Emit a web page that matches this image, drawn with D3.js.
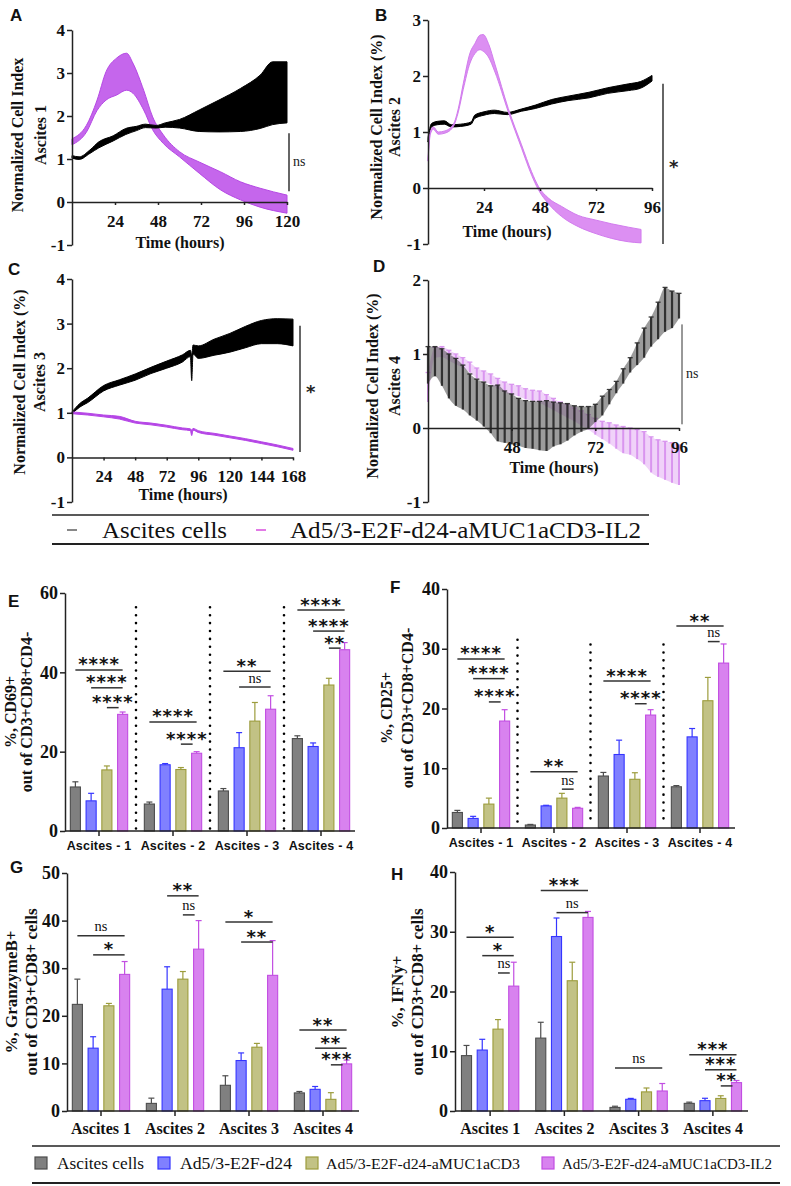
<!DOCTYPE html>
<html><head><meta charset="utf-8">
<script src="https://cdn.jsdelivr.net/npm/d3@7"></script>
<style>body{margin:0;background:#fff}</style>
</head><body><script>
// ---------------- DATA ----------------
// Panel A (Ascites 1): time (h), mean, error
const timeA_cells = [0,4,10,15,23,30,36,41,47,52,60,71,82,94,105,112,120];
const meanA_cells = [1.05,1.02,1.17,1.33,1.48,1.64,1.71,1.77,1.75,1.79,1.82,1.89,2.0,2.14,2.33,2.53,2.55];
const errA_cells  = [0.03,0.03,0.04,0.07,0.06,0.07,0.05,0.04,0.03,0.05,0.1,0.25,0.37,0.5,0.62,0.73,0.71];
const timeA_virus = [0,8,14,19,25,30.5,34,40,45,51,60,71,83,94,105,120];
const meanA_virus = [1.4,1.7,2.25,2.7,2.92,3.03,2.88,2.37,1.83,1.46,1.11,0.8,0.49,0.26,0.1,-0.05];
const errA_virus  = [0.07,0.08,0.12,0.33,0.43,0.43,0.35,0.23,0.15,0.1,0.06,0.13,0.21,0.21,0.22,0.21];
// Panel B (Ascites 2)
const timeB_cells = [0,1.5,4,7,10,14,18.5,20,24,28.5,34,40,46,53,60,69,77,86,91,96];
const meanB_cells = [0.86,1.12,1.16,1.17,1.11,1.12,1.16,1.27,1.33,1.36,1.33,1.39,1.45,1.54,1.6,1.66,1.74,1.8,1.84,1.96];
const errB_cells  = [0.04,0.03,0.03,0.03,0.02,0.02,0.02,0.03,0.03,0.03,0.02,0.02,0.03,0.04,0.04,0.05,0.05,0.06,0.06,0.05];
const timeB_virus = [0,1,2.3,4.4,7.3,10.9,13,15.1,18,20.1,22.3,23.7,25.9,28.7,34.4,40.1,44.4,47.3,51.6,57.3,64.4,71.6,78.7,85.9,91.3];
const meanB_virus = [0.5,0.98,1.07,0.98,1.0,1.12,1.39,1.81,2.32,2.49,2.6,2.59,2.46,2.14,1.39,0.74,0.26,0.0,-0.23,-0.42,-0.59,-0.69,-0.77,-0.83,-0.86];
const errB_virus  = [0.02,0.02,0.02,0.02,0.02,0.02,0.03,0.05,0.09,0.09,0.13,0.15,0.12,0.07,0.03,0.03,0.03,0.03,0.05,0.09,0.1,0.12,0.13,0.13,0.12];
// Panel C (Ascites 3)
const timeC_cells = [0,6,12,24,36,48,60,72,84,90,91,92,96,108,120,132,144,156,168];
const meanC_cells = [1.0,1.17,1.28,1.55,1.68,1.8,1.95,2.08,2.22,2.33,2.0,2.42,2.36,2.47,2.57,2.7,2.81,2.83,2.8];
const errC_cells  = [0.02,0.04,0.05,0.06,0.06,0.07,0.07,0.08,0.08,0.07,0.28,0.1,0.14,0.18,0.21,0.24,0.26,0.28,0.3];
const timeC_virus = [0,12,24,36,48,60,72,84,90,91,92,96,108,120,132,144,156,168];
const meanC_virus = [1.0,0.97,0.93,0.89,0.79,0.75,0.7,0.64,0.62,0.55,0.63,0.58,0.52,0.46,0.4,0.33,0.26,0.18];
const errC_virus  = [0.02,0.02,0.02,0.03,0.02,0.02,0.02,0.02,0.02,0.06,0.02,0.02,0.02,0.02,0.02,0.02,0.02,0.02];
// Panel D (Ascites 4)
const timeD = [24,26,28,30,32,34,36,38,40,42,44,46,48,50,52,54,56,58,60,62,64,66,68,70,72,74,76,78,80,82,84,86,88,90,92,94,96];
const meanD_cells = [0.85,0.9,0.82,0.7,0.62,0.55,0.45,0.38,0.32,0.25,0.2,0.15,0.12,0.08,0.05,0.04,0.03,0.03,0.05,0.06,0.08,0.1,0.12,0.14,0.2,0.3,0.42,0.55,0.7,0.85,1.0,1.15,1.3,1.45,1.6,1.6,1.65];
const errD_cells  = [0.25,0.2,0.25,0.3,0.32,0.3,0.28,0.28,0.3,0.32,0.38,0.35,0.34,0.32,0.32,0.32,0.33,0.34,0.3,0.28,0.25,0.2,0.17,0.15,0.12,0.13,0.1,0.08,0.1,0.1,0.15,0.2,0.2,0.25,0.3,0.25,0.17];
const meanD_virus = [0.55,1.02,1.03,0.98,0.93,0.88,0.82,0.74,0.7,0.66,0.6,0.55,0.52,0.5,0.46,0.44,0.42,0.37,0.32,0.27,0.23,0.18,0.13,0.08,0.02,-0.03,-0.07,-0.12,-0.16,-0.18,-0.22,-0.27,-0.36,-0.41,-0.44,-0.47,-0.5];
const errD_virus  = [0.2,0.07,0.07,0.07,0.07,0.07,0.07,0.07,0.07,0.07,0.07,0.07,0.07,0.07,0.07,0.07,0.08,0.08,0.08,0.08,0.09,0.09,0.1,0.1,0.11,0.12,0.14,0.16,0.18,0.18,0.2,0.22,0.24,0.25,0.26,0.27,0.27];
const lineSeriesNames = ["Ascites cells","Ad5/3-E2F-d24-aMUC1aCD3-IL2"];

// Bar panels
const groupsEF = ["Ascites - 1","Ascites - 2","Ascites - 3","Ascites - 4"];
const groupsGH = ["Ascites 1","Ascites 2","Ascites 3","Ascites 4"];
const barSeriesNames = ["Ascites cells","Ad5/3-E2F-d24","Ad5/3-E2F-d24-aMUC1aCD3","Ad5/3-E2F-d24-aMUC1aCD3-IL2"];
const cd69Mean = [[11.1,7.6,15.4,29.4],[6.8,16.7,15.5,19.6],[10.1,21.0,27.7,30.7],[23.3,21.3,36.8,45.7]];
const cd69Err  = [[1.3,1.9,1.0,0.6],[0.5,0.3,0.5,0.4],[0.6,3.8,4.7,3.4],[0.7,0.9,1.7,1.8]];
const cd25Mean = [[2.6,1.6,4.0,17.9],[0.5,3.7,5.0,3.3],[8.7,12.3,8.15,18.9],[6.9,15.25,21.3,27.6]];
const cd25Err  = [[0.35,0.35,1.0,1.9],[0.1,0.1,0.8,0.15],[0.6,2.4,1.1,0.9],[0.2,1.4,3.9,3.2]];
const gzbMean  = [[22.4,13.2,22.1,28.7],[1.6,25.6,27.7,34.0],[5.4,10.6,13.4,28.5],[3.8,4.55,2.45,9.9]];
const gzbErr   = [[5.3,2.4,0.5,2.7],[1.1,4.7,1.6,6.0],[2.0,1.6,0.8,7.3],[0.3,0.6,1.4,0.8]];
const ifnMean  = [[9.27,10.2,13.7,20.9],[12.2,29.2,21.8,32.4],[0.6,1.96,3.2,3.35],[1.28,1.73,2.1,4.75]];
const ifnErr   = [[1.7,1.8,1.6,4.0],[2.65,3.1,3.1,1.0],[0.2,0.15,0.65,1.25],[0.2,0.4,0.45,0.35]];
// significance: [group, seriesA, seriesB, level (data units), label]
const sigE = [[0,0,3,40.6,'****'],[0,1,3,36.1,'****'],[0,2,3,31.1,'****'],[1,0,3,27.5,'****'],[1,2,3,21.9,'****'],[2,0,3,40.3,'**'],[2,1,3,36.3,'ns'],[3,0,3,55.7,'****'],[3,1,3,50.4,'****'],[3,2,3,46.1,'**']];
const sigF = [[0,0,3,28.3,'****'],[0,1,3,25.0,'****'],[0,2,3,21.1,'****'],[1,0,3,9.4,'**'],[1,2,3,6.5,'ns'],[2,0,3,24.6,'****'],[2,2,3,20.8,'****'],[3,0,3,33.8,'**'],[3,2,3,31.2,'ns']];
const sigG = [[0,0,3,36.8,'ns'],[0,1,3,32.8,'*'],[1,1,3,45.2,'**'],[1,2,3,41.2,'ns'],[2,0,3,39.7,'*'],[2,1,3,35.5,'**'],[3,0,3,17.0,'**'],[3,1,3,13.2,'**'],[3,2,3,9.7,'***']];
const sigH = [[0,0,3,29.1,'*'],[0,1,3,26.0,'*'],[0,2,3,23.1,'ns'],[1,0,3,36.9,'***'],[1,1,3,33.2,'ns'],[2,0,3,7.2,'ns'],[3,0,3,9.4,'***'],[3,1,3,6.9,'***'],[3,2,3,4.2,'**']];

// ---------------- STYLE ----------------
const serif = "'Liberation Serif','Times New Roman',Times,serif";
const sans = "'Liberation Sans',Arial,sans-serif";
const starFont = "'DejaVu Sans',sans-serif";
const barFill = ['#808080','#8080ff','#c2c285','#d882ef'];
const barStroke = ['#4d4d4d','#3535ff','#9c9c3c','#c24ee2'];

const svg = d3.select('body').append('svg').attr('width',791).attr('height',1186).style('background','#fff');

function styleAxis(sel, fs, family){
  sel.select('.domain').attr('stroke','#222').attr('stroke-width',1.5);
  sel.selectAll('.tick line').attr('stroke','#222').attr('stroke-width',1.5);
  sel.selectAll('.tick text').attr('font-family',family).attr('font-weight','bold').attr('font-size',fs).attr('fill','#111');
}
function label(txt,x,y){
  svg.append('text').attr('x',x).attr('y',y).text(txt).attr('font-family',sans).attr('font-weight','bold').attr('font-size',17).attr('fill','#111');
}
function rotTitle(lines, xs, yc, fs){
  lines.forEach((t,i)=>{
    svg.append('text').attr('transform',`translate(${xs[i]},${yc}) rotate(-90)`).attr('text-anchor','middle')
      .attr('font-family',serif).attr('font-weight','bold').attr('font-size',fs).attr('fill','#111').text(t);
  });
}

// ---------------- LINE PANELS ----------------
function linePanel(c){
  const x = d3.scaleLinear().domain(c.xDomain).range(c.xRange);
  const y = d3.scaleLinear().domain(c.yDomain).range(c.yRange);
  const g = svg.append('g');
  c.series.forEach(s=>{
    const pts = s.t.map((t,i)=>({t, m:s.m[i], e:s.e[i]}));
    const area = d3.area().x(d=>x(d.t)).y0(d=>y(d.m-d.e)).y1(d=>y(d.m+d.e)).curve(d3.curveMonotoneX);
    if (s.type==='band'){
      g.append('path').datum(pts).attr('d', area)
        .attr('fill',s.fill).attr('stroke',s.stroke).attr('stroke-width',s.sw||1);
    } else {
      g.append('path').datum(pts).attr('d', area).attr('fill',s.band).attr('opacity',s.bandOp).attr('stroke','none');
      const eg = g.append('g').attr('stroke',s.stroke).attr('stroke-width',s.w).attr('opacity',s.op||1);
      eg.selectAll('line.v').data(pts).join('line').attr('x1',d=>x(d.t)).attr('x2',d=>x(d.t)).attr('y1',d=>y(d.m-d.e)).attr('y2',d=>y(d.m+d.e));
      eg.selectAll('line.t').data(pts).join('line').attr('x1',d=>x(d.t)-2.5).attr('x2',d=>x(d.t)+2.5).attr('y1',d=>y(d.m+d.e)).attr('y2',d=>y(d.m+d.e)).attr('stroke-width',1.3);
    }
  });
  const ya = g.append('g').attr('transform',`translate(${c.xRange[0]},0)`)
    .call(d3.axisLeft(y).tickValues(c.yTicks).tickSize(5).tickSizeOuter(0).tickPadding(2).tickFormat(d=>String(d)));
  styleAxis(ya,17,serif);
  const xa = g.append('g').attr('transform',`translate(0,${y(0)})`)
    .call(d3.axisBottom(x).tickValues(c.xTicks).tickSize(3).tickSizeOuter(0).tickPadding(10).tickFormat(d=>String(d)));
  styleAxis(xa,17,serif);
  g.append('text').attr('x',c.xTitle[0]).attr('y',c.xTitle[1]).attr('text-anchor','middle').attr('font-family',serif)
    .attr('font-weight','bold').attr('font-size',16).attr('fill','#111').text('Time (hours)');
  g.append('line').attr('x1',c.sig.x).attr('x2',c.sig.x).attr('y1',y(c.sig.v[0])).attr('y2',y(c.sig.v[1]))
    .attr('stroke','#333').attr('stroke-width',c.sig.w);
  g.append('text').attr('x',c.sig.x+ (c.sig.label==='ns'?4:6)).attr('y',(y(c.sig.v[0])+y(c.sig.v[1]))/2 + (c.sig.label==='ns'?4:9))
    .attr('font-family',c.sig.label==='ns'?serif:starFont).attr('font-weight',c.sig.label==='ns'?'normal':'bold')
    .attr('font-size',c.sig.label==='ns'?14:18).attr('fill','#222').text(c.sig.label);
}

linePanel({xDomain:[0,120],xRange:[72,287],yDomain:[-1,4],yRange:[245,30],yTicks:[-1,0,1,2,3,4],xTicks:[24,48,72,96,120],
  xTitle:[180,248], sig:{x:289,v:[1.6,0.25],label:'ns',w:1.5},
  series:[
    {type:'band',t:timeA_virus,m:meanA_virus,e:errA_virus,fill:'#c566ec',stroke:'#b548e4',sw:1},
    {type:'band',t:timeA_cells,m:meanA_cells,e:errA_cells,fill:'#000',stroke:'#000',sw:1}]});
linePanel({xDomain:[0,96],xRange:[428,652],yDomain:[-1,3],yRange:[244,20],yTicks:[-1,0,1,2,3],xTicks:[24,48,72,96],
  xTitle:[507,237], sig:{x:663,v:[1.86,-1.0],label:'*',w:1.5},
  series:[
    {type:'band',t:timeB_cells,m:meanB_cells,e:errB_cells,fill:'#000',stroke:'#000',sw:1},
    {type:'band',t:timeB_virus,m:meanB_virus,e:errB_virus,fill:'#dc8ff2',stroke:'#d27cee',sw:1}]});
linePanel({xDomain:[0,168],xRange:[72,293],yDomain:[-1,4],yRange:[502,279],yTicks:[-1,0,1,2,3,4],xTicks:[24,48,72,96,120,144,168],
  xTitle:[183,500], sig:{x:300,v:[2.95,0.12],label:'*',w:1.5},
  series:[
    {type:'band',t:timeC_cells,m:meanC_cells,e:errC_cells,fill:'#000',stroke:'#000',sw:1},
    {type:'band',t:timeC_virus,m:meanC_virus,e:errC_virus,fill:'#b545e6',stroke:'#b545e6',sw:1}]});
linePanel({xDomain:[24,96],xRange:[428,679],yDomain:[-1,2],yRange:[502,280],yTicks:[-1,0,1,2],xTicks:[48,72,96],
  xTitle:[554,473], sig:{x:682,v:[1.4,0.05],label:'ns',w:1},
  series:[
    {type:'bars',t:timeD,m:meanD_virus,e:errD_virus,stroke:'#d995ef',w:2,band:'#eabff7',bandOp:0.7},
    {type:'bars',t:timeD,m:meanD_cells,e:errD_cells,stroke:'#262626',w:2.2,op:0.9,band:'#4a4a4a',bandOp:0.55}]});

label('A',10,21); label('B',375,21); label('C',8,275); label('D',373,272);
rotTitle(['Normalized Cell Index','Ascites 1'],[23,46],135,16);
rotTitle(['Normalized Cell Index (%)','Ascites 2'],[382,400],127,16);
rotTitle(['Normalized Cell Index (%)','Ascites 3'],[25,45],382,16);
rotTitle(['Normalized Cell Index (%)','Ascites 4'],[378,400],386,16);

// legend row 1
svg.append('line').attr('x1',52).attr('x2',649).attr('y1',515).attr('y2',515).attr('stroke','#222').attr('stroke-width',1.5);
svg.append('line').attr('x1',52).attr('x2',649).attr('y1',544).attr('y2',544).attr('stroke','#222').attr('stroke-width',2);
const leg1 = [{x:67,c:'#888',tx:102,w:125},{x:256,c:'#e27ae6',tx:290,w:351}];
leg1.forEach((d,i)=>{
  svg.append('line').attr('x1',d.x).attr('x2',d.x+10).attr('y1',530).attr('y2',530).attr('stroke',d.c).attr('stroke-width',2);
  svg.append('text').attr('x',d.tx).attr('y',538).attr('font-family',serif).attr('font-size',23).attr('fill','#111')
    .attr('textLength',d.w).attr('lengthAdjust','spacingAndGlyphs').text(lineSeriesNames[i]);
});

// ---------------- BAR PANELS ----------------
function barPanel(c){
  const x0 = d3.scaleBand().domain(c.groups).range(c.xRange);
  const x1 = d3.scaleBand().domain(d3.range(4)).range([-31.5,31.5]).paddingInner(0.36).paddingOuter(0.18);
  const y = d3.scaleLinear().domain(c.yDomain).range(c.yRange);
  const cx = (gi,si)=> x0(c.groups[gi]) + x0.bandwidth()/2 + x1(si) + x1.bandwidth()/2;
  const g = svg.append('g');
  (c.sepTop||[]).forEach((v,i)=>{
    const xx = x0(c.groups[i+1]);
    g.append('line').attr('x1',xx).attr('x2',xx).attr('y1',y(v)).attr('y2',y(0)-2).attr('stroke','#000')
      .attr('stroke-width',2.6).attr('stroke-linecap','round').attr('stroke-dasharray','0 7.9');
  });
  const rows = [];
  c.mean.forEach((arr,gi)=>arr.forEach((m,si)=>rows.push({gi,si,m,e:c.err[gi][si]})));
  g.selectAll('rect.bar').data(rows).join('rect')
    .attr('x',d=>cx(d.gi,d.si)-x1.bandwidth()/2).attr('width',x1.bandwidth())
    .attr('y',d=>y(d.m)).attr('height',d=>y(0)-y(d.m))
    .attr('fill',d=>barFill[d.si]).attr('stroke',d=>barStroke[d.si]).attr('stroke-width',1.1);
  g.selectAll('line.err').data(rows).join('line')
    .attr('x1',d=>cx(d.gi,d.si)).attr('x2',d=>cx(d.gi,d.si)).attr('y1',d=>y(d.m)).attr('y2',d=>y(d.m+d.e))
    .attr('stroke',d=>barStroke[d.si]).attr('stroke-width',1.2);
  g.selectAll('line.cap').data(rows).join('line')
    .attr('x1',d=>cx(d.gi,d.si)-3).attr('x2',d=>cx(d.gi,d.si)+3).attr('y1',d=>y(d.m+d.e)).attr('y2',d=>y(d.m+d.e))
    .attr('stroke',d=>barStroke[d.si]).attr('stroke-width',1.2);
  c.sig.forEach(([gi,a,b,v,lab])=>{
    const xa = cx(gi,a), xb = cx(gi,b) - (b-a===1?4:0), yy = y(v);
    g.append('line').attr('x1',xa).attr('x2',xb).attr('y1',yy).attr('y2',yy).attr('stroke','#333').attr('stroke-width',1.5);
    const t = g.append('text').attr('x',(xa+xb)/2).attr('text-anchor','middle').attr('fill','#111').text(lab);
    if (lab==='ns') t.attr('y',yy-4.5).attr('font-family',serif).attr('font-size',14.5);
    else t.attr('y',yy+0.5).attr('font-family',starFont).attr('font-weight','bold').attr('font-size',18).attr('letter-spacing',1);
  });
  const ya = g.append('g').attr('transform',`translate(${c.axisX[0]},0)`)
    .call(d3.axisLeft(y).tickValues(c.yTicks).tickSize(5).tickSizeOuter(0).tickPadding(2));
  styleAxis(ya,18,serif);
  const xa = g.append('g').attr('transform',`translate(0,${y(0)})`)
    .call(d3.axisBottom(x0).tickSize(5).tickSizeOuter(0).tickPadding(c.xPad));
  xa.select('.domain').attr('d',`M${c.axisX[0]},0H${c.axisX[1]}`);
  styleAxis(xa,c.xfs,c.xfam);
  if (c.xfam===sans) xa.selectAll('.tick text').attr('letter-spacing',0.2);
}

barPanel({groups:groupsEF,xRange:[62,358],axisX:[65,355],yDomain:[0,60],yRange:[831,593],yTicks:[0,20,40,60],
  mean:cd69Mean,err:cd69Err,sig:sigE,sepTop:[56.4,56.4,56.4],xPad:5,xfs:12.5,xfam:sans});
barPanel({groups:groupsEF,xRange:[444.5,736.5],axisX:[447,735],yDomain:[0,40],yRange:[828,589],yTicks:[0,10,20,30,40],
  mean:cd25Mean,err:cd25Err,sig:sigF,sepTop:[31.5,30.7,30.7],xPad:5,xfs:12.5,xfam:sans});
barPanel({groups:groupsGH,xRange:[64,360],axisX:[67,359],yDomain:[0,50],yRange:[1111,873],yTicks:[0,10,20,30,40,50],
  mean:gzbMean,err:gzbErr,sig:sigG,xPad:7,xfs:16,xfam:serif});
barPanel({groups:groupsGH,xRange:[453,750],axisX:[455,748],yDomain:[0,40],yRange:[1111,872],yTicks:[0,10,20,30,40],
  mean:ifnMean,err:ifnErr,sig:sigH,xPad:7,xfs:16,xfam:serif});

label('E',8,607); label('F',390,593); label('G',10,873); label('H',391,880);
rotTitle(['%, CD69+','out of CD3+CD8+CD4-'],[16,32],712,16);
rotTitle(['%, CD25+','out of CD3+CD8+CD4-'],[392,413],708,16);
rotTitle(['%, GranzymeB+','out of CD3+CD8+ cells'],[17,37],992,17);
rotTitle(['%, IFNy+','out of CD3+CD8+ cells'],[403,423],992,17);

// legend bottom
svg.append('line').attr('x1',32).attr('x2',780).attr('y1',1146).attr('y2',1146).attr('stroke','#222').attr('stroke-width',1.5);
svg.append('line').attr('x1',32).attr('x2',780).attr('y1',1183).attr('y2',1183).attr('stroke','#222').attr('stroke-width',2);
const leg2 = [{x:35,tx:57,w:87,fs:17},{x:158,tx:180,w:112,fs:17},{x:306,tx:326,w:194,fs:15},{x:542,tx:562,w:210,fs:15}];
leg2.forEach((d,i)=>{
  svg.append('rect').attr('x',d.x).attr('y',1157).attr('width',12).attr('height',12).attr('fill',barFill[i]).attr('stroke',barStroke[i]).attr('stroke-width',1.2);
  svg.append('text').attr('x',d.tx).attr('y',1169).attr('font-family',serif).attr('font-size',d.fs).attr('fill','#111')
    .attr('textLength',d.w).attr('lengthAdjust','spacingAndGlyphs').text(barSeriesNames[i]);
});
</script></body></html>
